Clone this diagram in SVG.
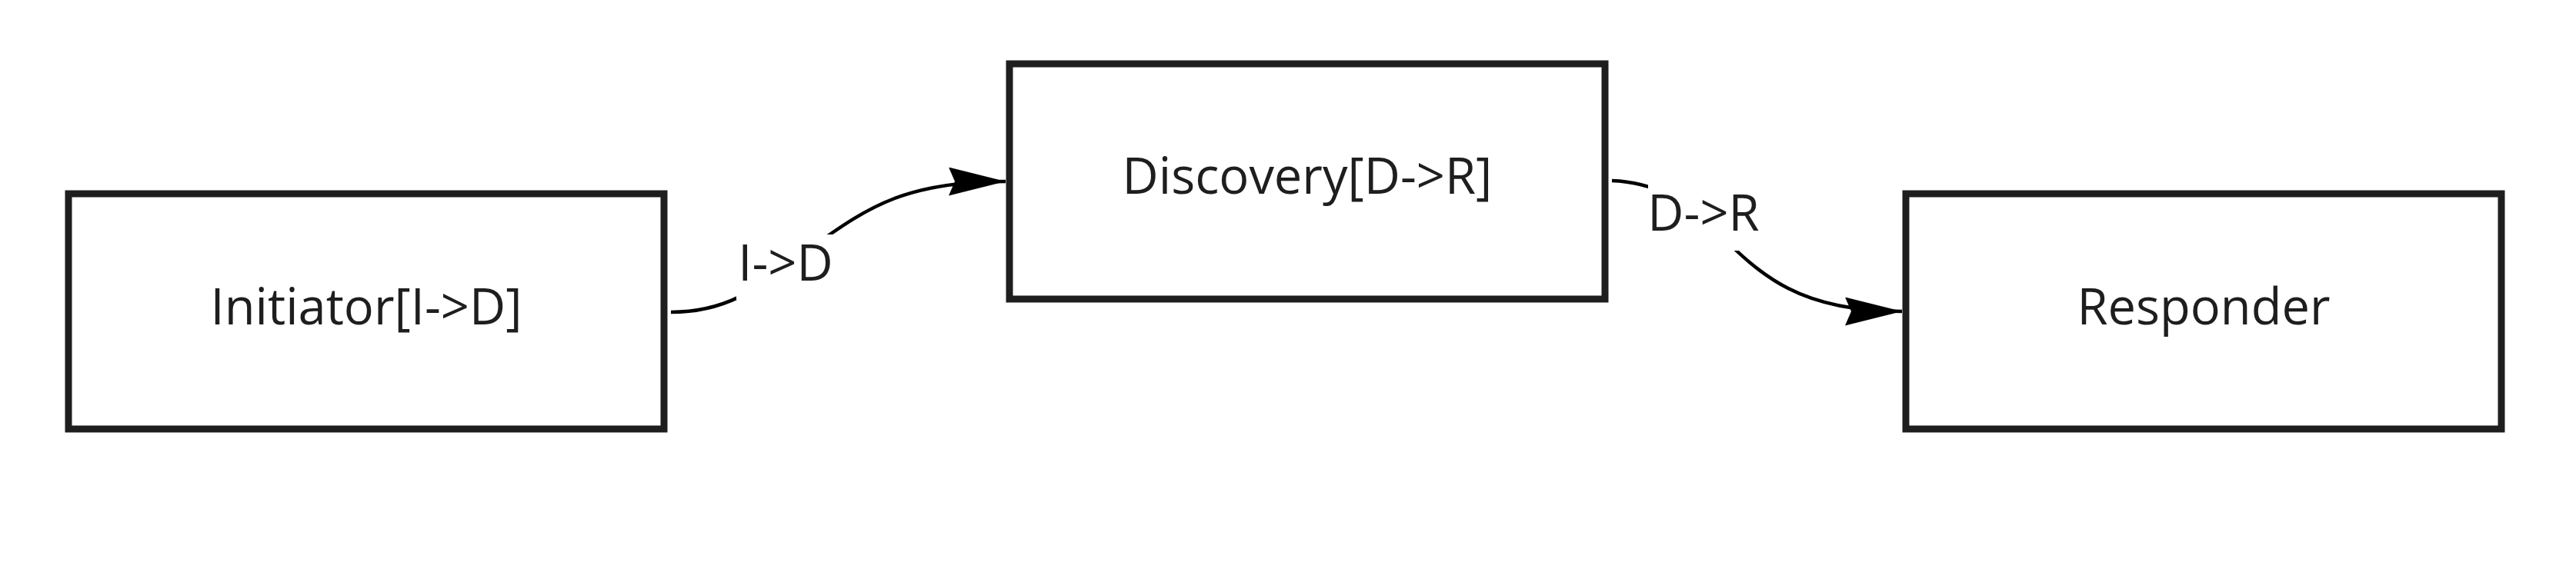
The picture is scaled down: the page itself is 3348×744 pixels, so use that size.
<svg xmlns="http://www.w3.org/2000/svg" width="3348" height="744" viewBox="0 0 3348 744">
  <style>
    .node rect { fill: #ffffff; stroke: #1e1e1e; stroke-width: 9; }
    .label { font-family: "Open Sans", "Noto Sans", "Liberation Sans", sans-serif; font-size: 65px; fill: #1e1e1e; text-anchor: middle; }
    .edge { fill: none; stroke: #000000; stroke-width: 4.5; }
    .edge-bg { fill: #ffffff; stroke: none; }
  </style>
  <defs>
    <marker id="arrow" markerUnits="userSpaceOnUse" markerWidth="76" markerHeight="40" refX="74" refY="18.5" orient="auto">
      <path d="M0,0 L74,18.5 L0,37 L8,18.5 Z" fill="#000000"/>
    </marker>
  </defs>
  <rect x="0" y="0" width="3348" height="744" fill="#ffffff"/>

  <g id="connectors">
    <g id="edge-initiator-discovery">
      <path class="edge" d="M872,406 C960,406 1000,360 1060,318 C1130,268 1180,236 1307,236" marker-end="url(#arrow)"/>
      <rect class="edge-bg" x="957" y="305" width="127" height="85"/>
      <text class="label" x="1021" y="365">I-&gt;D</text>
    </g>
    <g id="edge-discovery-responder">
      <path class="edge" d="M2095,235 C2150,237 2190,260 2230,300 C2290,360 2340,405 2472,405" marker-end="url(#arrow)"/>
      <rect class="edge-bg" x="2142" y="240" width="146" height="86"/>
      <text class="label" x="2214" y="300">D-&gt;R</text>
    </g>
  </g>

  <g id="node-initiator" class="node">
    <rect x="89" y="252" width="774" height="306"/>
    <text class="label" x="476" y="422">Initiator[I-&gt;D]</text>
  </g>
  <g id="node-discovery" class="node">
    <rect x="1312" y="83" width="774" height="306"/>
    <text class="label" x="1699" y="252">Discovery[D-&gt;R]</text>
  </g>
  <g id="node-responder" class="node">
    <rect x="2477" y="252" width="774" height="306"/>
    <text class="label" x="2864" y="422">Responder</text>
  </g>
</svg>
